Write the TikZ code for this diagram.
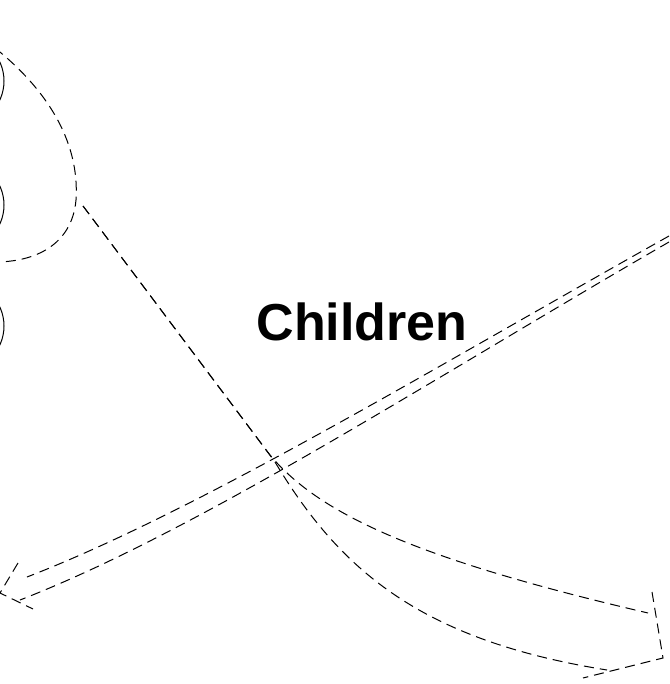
\documentclass[tikz,border=0pt]{standalone}
\usepackage{fontspec}
\setmainfont{Liberation Sans}
\usepackage{tikz}
\usetikzlibrary{arrows.meta}

\begin{document}
\begin{tikzpicture}[x=1pt,y=-1pt]
\tikzstyle{every node}=[inner sep=0pt]
\tikzstyle{member}=[draw,circle,line width=1pt,minimum size=90pt]
\tikzstyle{sketch}=[line width=1pt,dash pattern=on 10pt off 6pt]
\useasboundingbox (0,0) rectangle (669,684);
\clip (0,0) rectangle (669,684);
% group members, cut off at the left edge
\node[member] (m1) at (-41,81) {};
\node[member] (m2) at (-41,205) {};
\node[member] (m3) at (-41,326) {};
\node[anchor=base,font=\fontsize{52}{60}\selectfont\bfseries] (lbl) at (362,340) {Children};
% outline round the first two members
\coordinate (tipA) at (76,200);
\draw[sketch] (-5,48) .. controls (45,88) and (80,140) .. (tipA)
  .. controls (72,245) and (35,262) .. (-5,262);
% curved arrow to the lower right
\coordinate (srcA) at (83,206);
\draw[sketch] (srcA) -- (270,455) .. controls (320,515) and (420,560) .. (648,613);
\draw[sketch] (srcA) -- (275,462) .. controls (340,570) and (420,640) .. (607,670);
\draw[sketch] (652,592) -- (663,658) -- (583,678);
% long arrow to the lower left
\coordinate (srcB) at (669,236);
\coordinate (srcC) at (669,242);
\draw[sketch] (srcB) .. controls (430,370) and (200,510) .. (27,577);
\draw[sketch] (srcC) .. controls (430,380) and (200,530) .. (20,600);
\draw[sketch] (18,563) -- (0,593) -- (33,609);
\end{tikzpicture}
\end{document}
